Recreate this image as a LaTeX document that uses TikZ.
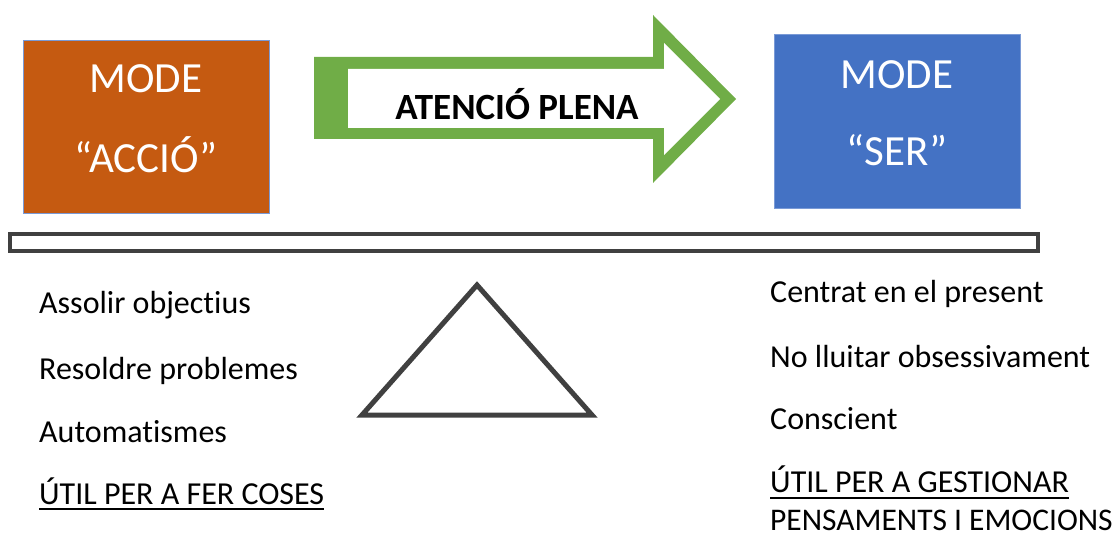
\documentclass[tikz,border=0pt]{standalone}
\usepackage{fontspec}
\setmainfont[Ligatures=NoCommon]{Carlito}
\definecolor{accio}{HTML}{C55A11}
\definecolor{ser}{HTML}{4472C4}
\definecolor{edge}{HTML}{7A9AD6}
\definecolor{verd}{HTML}{70AD47}
\definecolor{fosc}{HTML}{404040}
\begin{document}
\begin{tikzpicture}[x=1pt,y=-1pt,
  modebox/.style={draw=edge, line width=1pt, inner sep=0pt},
  boxtext/.style={text=white, font=\fontsize{43}{46}\selectfont, inner sep=0pt},
  item/.style={anchor=base west, inner sep=0pt, font=\fontsize{32}{36}\selectfont, text=black},
  uline/.style={line width=2pt, black}]
\useasboundingbox (0,0) rectangle (1119,537);
% boxes
\node[modebox, fill=accio, minimum width=246pt, minimum height=173pt] (acc) at (146,127.5) {};
\node[modebox, fill=ser, minimum width=246pt, minimum height=174pt] (ser) at (897,122) {};
\node[boxtext] (acc1) at (146,79) {MODE};
\node[boxtext] (acc2) at (146,155) {“ACCIÓ”};
\node[boxtext] (ser1) at (897,75) {MODE};
\node[boxtext] (ser2) at (897,150) {“SER”};
% arrow
\fill[verd] (314,57) -- (653,57) -- (653,15) -- (736,99) -- (653,183) -- (653,139) -- (314,139) -- cycle;
\fill[white] (348,69) -- (664,69) -- (664,43) -- (720,99) -- (664,155) -- (664,128) -- (348,128) -- cycle;
\node[inner sep=0pt, font=\bfseries\fontsize{37}{40}\selectfont] (arr) at (517,104) {ATENCIÓ PLENA};
% balance
\draw[fosc, line width=4pt] (10,234) rectangle (1038,251);
\draw[fosc, line width=5pt, line join=miter] (477,285) -- (592,415) -- (362,415) -- cycle;
% left texts
\node[item] (l1) at (39,314) {Assolir objectius};
\node[item] (l2) at (39,379) {Resoldre problemes};
\node[item] (l3) at (39,442) {Automatismes};
\node[item] (l4) at (39,504) {ÚTIL PER A FER COSES};
\draw[uline] ([yshift=-5pt]l4.base west) -- ([yshift=-5pt]l4.base east);
% right texts
\node[item] (r1) at (770,303) {Centrat en el present};
\node[item] (r2) at (770,367) {No lluitar obsessivament};
\node[item] (r3) at (770,429) {Conscient};
\node[item] (r4) at (770,492) {ÚTIL PER A GESTIONAR};
\draw[uline] ([yshift=-6pt]r4.base west) -- ([yshift=-6pt]r4.base east);
\node[item, font=\fontsize{31.5}{36}\selectfont] (r5) at (770,530) {PENSAMENTS I EMOCIONS};
\end{tikzpicture}
\end{document}
